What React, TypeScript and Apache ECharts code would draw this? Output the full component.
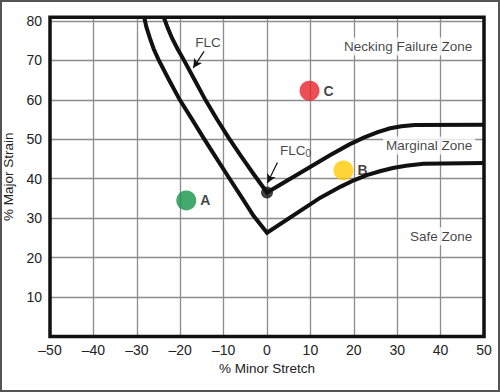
import React, { useEffect, useRef } from "react";
import * as echarts from "echarts";

const FONT = "'Liberation Sans Narrow', 'Liberation Sans', Arial, sans-serif";

const xTicks = [-50, -40, -30, -20, -10, 0, 10, 20, 30, 40, 50];
const yTicks = [0, 10, 20, 30, 40, 50, 60, 70, 80];
const yTop = 81; // plot frame sits slightly above the 80 grid line

// Upper curve (FLC)
const flcUpper: [number, number][] = [
  [-23.8, 81], [-22.9, 78.3], [-21.9, 75.7], [-20.6, 72.9], [-19.2, 70.2],
  [-16.7, 65.1], [-14.2, 60], [-11.6, 55.2], [-8.9, 50.5], [-6.1, 45.9],
  [-3.1, 41.2], [0, 36.5],
  [14.6, 46], [19, 48.7], [22.3, 50.4], [25.5, 51.8], [28.4, 52.8],
  [31, 53.3], [34, 53.6], [50, 53.7],
];
// Lower curve
const flcLower: [number, number][] = [
  [-28.3, 81], [-27.8, 78.5], [-27.0, 75.7], [-26.1, 72.9], [-25.0, 70.2],
  [-22.6, 65.1], [-20.1, 60], [-17.3, 55.1], [-14.6, 50.3], [-11.7, 45.3],
  [-8.8, 40.3], [-5.9, 35.4], [-3.1, 30.6], [0, 26.3],
  [12.3, 35.2], [17, 38], [20, 39.6], [23, 40.9], [26, 41.9], [29, 42.7],
  [32, 43.3], [36, 43.8], [50, 44],
];

const pointNames = ["A", "B", "C"];
const pointX = [-18.6, 17.6, 9.8];
const pointY = [34.5, 42.1, 62.3];
const pointColors = ["#159447", "#ffcb05", "#e8202a"];

const flc0: [number, number] = [0, 36.5];

const zoneNames = ["Necking Failure Zone", "Marginal Zone", "Safe Zone"];
const zoneX = [48.0, 48.0, 48.0];
const zoneY = [73.5, 48.4, 25.4];

// annotation arrows [start, end]
const arrowFLC: [number, number][] = [[-14.5, 72.3], [-17.0, 68.1]];
const arrowFLC0: [number, number][] = [[2.4, 44.1], [0.1, 38.9]];
const labelFLC: [number, number] = [-13.6, 74.6];
const labelFLC0: [number, number] = [3.0, 47.1];

export default function App() {
  const ref = useRef<HTMLDivElement>(null);
  useEffect(() => {
    if (!ref.current) return;
    const chart = echarts.init(ref.current, null, { renderer: "svg" });
    const lineStyleCurve = { color: "#111", width: 4, join: "miter" as const, cap: "butt" as const };
    chart.setOption({
      animation: false,
      backgroundColor: "#fff",
      textStyle: { fontFamily: FONT },
      grid: {
        left: 50,
        top: 17,
        width: 434,
        height: 319.5,
        show: false,
        containLabel: false,
        outerBoundsMode: "none",
      },
      xAxis: {
        type: "value",
        min: xTicks[0],
        max: xTicks[xTicks.length - 1],
        interval: 10,
        name: "% Minor Stretch",
        nameLocation: "middle",
        nameGap: 25,
        nameTextStyle: { fontSize: 13.5, color: "#222", fontFamily: FONT },
        axisLine: { show: false },
        axisTick: { show: false },
        axisLabel: {
          fontSize: 14,
          color: "#222",
          margin: 6,
          fontFamily: FONT,
          formatter: (v: number) => (v < 0 ? "\u2013" + Math.abs(v) : String(v)),
        },
        splitLine: { show: true, lineStyle: { color: "#8c8c8c", width: 1.3 } },
      },
      yAxis: {
        type: "value",
        min: yTicks[0],
        max: yTop,
        interval: 10,
        name: "% Major Strain",
        nameLocation: "middle",
        nameGap: 29,
        nameTextStyle: { fontSize: 13.5, color: "#222", fontFamily: FONT },
        axisLine: { show: false },
        axisTick: { show: false },
        axisLabel: {
          fontSize: 14,
          color: "#222",
          margin: 8,
          fontFamily: FONT,
          formatter: (v: number) => (yTicks.indexOf(v) > 0 ? String(v) : ""),
        },
        splitLine: { show: true, lineStyle: { color: "#8c8c8c", width: 1.3 } },
      },
      graphic: [
        {
          type: "rect",
          z: 100,
          silent: true,
          shape: { x: 50, y: 17.3, width: 434, height: 319.2 },
          style: { fill: "none", stroke: "#111", lineWidth: 3.5 },
        },
        {
          type: "rect",
          z: 100,
          silent: true,
          shape: { x: 1, y: 1, width: 498, height: 390 },
          style: { fill: "none", stroke: "#555", lineWidth: 2 },
        },
      ],
      series: [
        {
          type: "line",
          data: flcUpper,
          symbol: "none",
          lineStyle: lineStyleCurve,
          z: 3,
        },
        {
          type: "line",
          data: flcLower,
          symbol: "none",
          lineStyle: lineStyleCurve,
          z: 3,
        },
        {
          type: "scatter",
          z: 5,
          data: pointNames.map((n, i) => ({
            value: [pointX[i], pointY[i]],
            name: n,
            itemStyle: { color: pointColors[i] },
          })),
          symbolSize: 20,
          label: {
            show: true,
            position: "right",
            distance: 4,
            formatter: (p: any) => p.name,
            fontSize: 14,
            fontWeight: "bold",
            color: "#111",
            fontFamily: FONT,
          },
        },
        {
          type: "scatter",
          z: 6,
          data: [flc0],
          symbolSize: 12,
          itemStyle: { color: "#111" },
        },
        {
          type: "scatter",
          z: 7,
          symbolSize: 0,
          data: zoneNames.map((n, i) => ({ value: [zoneX[i], zoneY[i]], name: n })),
          label: {
            show: true,
            position: "left",
            distance: 0,
            formatter: (p: any) => p.name,
            fontSize: 13.5,
            color: "#111",
            fontFamily: FONT,
            backgroundColor: "#fff",
            padding: [2, 3, 2, 3],
          },
        },
        {
          type: "scatter",
          z: 7,
          symbolSize: 0,
          data: [
            { value: labelFLC, name: "FLC", label: { position: "inside" } },
            { value: labelFLC0, name: "FLC0", label: { position: "right", distance: 0 } },
          ],
          label: {
            show: true,
            formatter: (p: any) => (p.name === "FLC0" ? "FLC{sub|0}" : "FLC"),
            fontSize: 13.5,
            color: "#111",
            fontFamily: FONT,
            rich: {
              sub: { fontSize: 10, color: "#111", fontFamily: FONT, verticalAlign: "bottom", padding: [6, 0, 0, 0] },
            },
          },
          markLine: {
            silent: true,
            symbol: ["none", "arrow"],
            symbolSize: [7, 9],
            label: { show: false },
            lineStyle: { color: "#111", width: 1.2, type: "solid" },
            data: [
              [{ coord: arrowFLC[0] }, { coord: arrowFLC[1] }],
              [{ coord: arrowFLC0[0] }, { coord: arrowFLC0[1] }],
            ],
          },
        },
      ],
    });
    return () => chart.dispose();
  }, []);
  return (
    <div
      ref={ref}
      style={{ position: "absolute", left: 0, top: 0, width: 500, height: 392, background: "#fff" }}
    />
  );
}
